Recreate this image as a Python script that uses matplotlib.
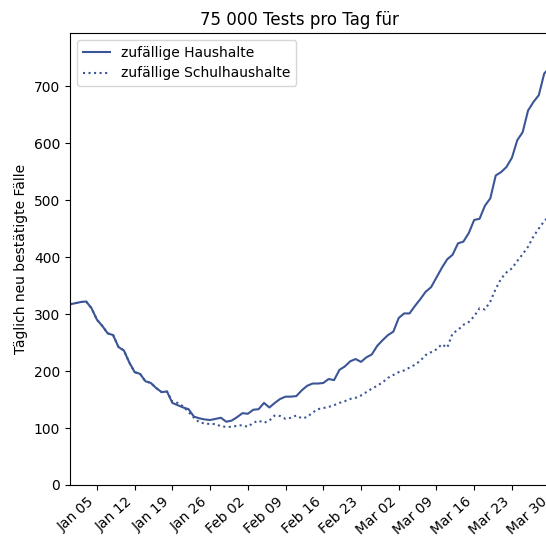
import numpy as np
import pandas as pd
import matplotlib
matplotlib.use("Agg")
import matplotlib.pyplot as plt
import matplotlib.dates as mdates

# daily confirmed cases, 31 Dec 2020 .. 31 Mar 2021
dates = pd.date_range("2020-12-31", "2021-03-31", freq="D")

haushalte = [317, 319, 321, 322, 310, 290, 279, 266, 263, 242,
             236, 215, 198, 195, 182, 179, 170, 163, 164, 144,
             140, 136, 133, 120, 117, 115, 114, 116, 118, 111,
             113, 119, 126, 125, 132, 133, 144, 136, 144, 151,
             155, 155, 156, 166, 174, 178, 178, 179, 186, 184,
             202, 208, 217, 221, 216, 224, 229, 244, 254, 263,
             269, 293, 301, 301, 314, 326, 339, 347, 364, 381,
             396, 404, 424, 427, 442, 465, 467, 490, 503, 543,
             549, 558, 574, 605, 619, 657, 672, 684, 722, 732,
             745]

schulhaushalte = [317, 319, 321, 322, 310, 290, 279, 266, 263, 242,
                  236, 215, 198, 195, 182, 179, 170, 163, 164, 146,
                  144, 138, 128, 118, 110, 108, 107, 107, 103, 102,
                  102, 104, 105, 102, 109, 113, 109, 113, 122, 121,
                  116, 118, 122, 117, 119, 127, 133, 135, 137, 140,
                  144, 147, 151, 153, 157, 163, 169, 174, 180, 188,
                  193, 198, 201, 206, 211, 218, 228, 233, 238, 247,
                  241, 266, 272, 281, 286, 296, 310, 308, 322, 344,
                  362, 373, 380, 393, 405, 418, 436, 450, 463, 472,
                  484]

color = '#3b5596'

fig = plt.figure(figsize=(5.46, 5.36), dpi=100)
# the original is cropped on the right, so the axes run past the figure edge
ax = fig.add_axes([70/546, 51/536, 485/546, 452/536])

ax.plot(dates, haushalte, color=color, linewidth=1.5, label='zufällige Haushalte')
ax.plot(dates, schulhaushalte, color=color, linewidth=1.5, linestyle=':',
        label='zufällige Schulhaushalte')

ax.set_xlim(dates[0], dates[-1])
ax.set_ylim(0, 793)
ax.xaxis.set_major_locator(mdates.WeekdayLocator(byweekday=mdates.TU))
ax.xaxis.set_major_formatter(mdates.DateFormatter('%b %d'))
plt.setp(ax.get_xticklabels(), rotation=42, ha='right')

ax.set_ylabel('Täglich neu bestätigte Fälle')
ax.set_title('75 000 Tests pro Tag für', x=(299 - 70) / 485)
ax.legend(loc='upper left')

fig.savefig('out.png', dpi=100)
